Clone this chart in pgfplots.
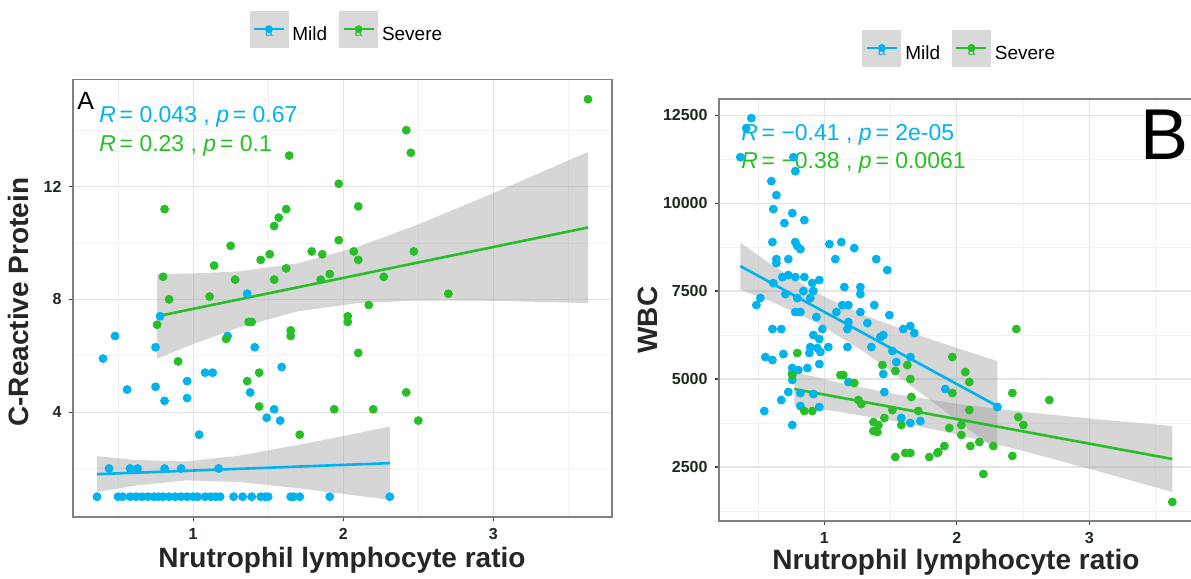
\documentclass[border=0pt]{standalone}
\usepackage{pgfplots}
\pgfplotsset{compat=1.18}
\usepackage{fontspec}
\setmainfont{Liberation Sans}

\definecolor{mild}{RGB}{0,178,238}
\definecolor{severe}{RGB}{40,190,40}
\definecolor{keygray}{RGB}{217,217,217}
\definecolor{tickcol}{RGB}{30,40,30}

\tikzset{rtext/.style={anchor=west, inner sep=0pt, font=\fontsize{11.5}{13}\selectfont}}

\pgfplotsset{
  panel/.style={
    scale only axis, clip=false,
    axis line style={black!50, line width=0.8pt},
    grid=both,
    major grid style={black!10, line width=0.6pt},
    minor grid style={black!5, line width=0.35pt},
    tick align=outside,
    major tick length=2.2pt, minor tick length=0pt,
    tick style={black!75, line width=0.6pt},
    xtick pos=left, ytick pos=left,
    scaled ticks=false,
    /pgf/number format/assume math mode=true,
    /pgf/number format/1000 sep={},
    ticklabel style={font=\bfseries\fontsize{8}{9}\selectfont, text=tickcol},
    label style={font=\bfseries\fontsize{14}{16}\selectfont, text=black!85},
    legend columns=-1,
    legend style={draw=none, fill=none, anchor=center,
      font=\fontsize{9.5}{11}\selectfont,
      /tikz/every even column/.append style={column sep=4pt}},
  },
  pts/.style={only marks, mark=*, mark size=2pt, mark options={draw=none}},
  band/.style={fill=black!40, fill opacity=0.4, draw=none, forget plot},
  fit/.style={line width=1.3pt, no marks, forget plot},
  keyimg/.style={legend image code/.code={
      \fill[keygray] (0pt,-6pt) rectangle (19pt,12pt);
      \draw[line width=1.2pt] (2pt,3pt) -- (17pt,3pt);
      \fill (9.5pt,3pt) circle (1.75pt);
      \node[font=\fontsize{7}{7}\selectfont, inner sep=0pt] at (9.5pt,0.5pt) {a};
  }},
}

\begin{document}
\begin{tikzpicture}
\path[use as bounding box] (0,0) rectangle (595.5pt,289.5pt);

% ---------------- panel A ----------------
\begin{axis}[panel,
  at={(36.5pt,31pt)}, anchor=south west,
  width=269.5pt, height=218.75pt,
  xmin=0.2, xmax=3.79, ymin=0.28, ymax=15.8,
  xtick={1,2,3}, minor xtick={0.5,1.5,2.5,3.5},
  ytick={4,8,12}, minor ytick={2,6,10,14},
  xlabel={Nrutrophil lymphocyte ratio},
  ylabel={C-Reactive Protein},
  xlabel style={at={(axis description cs:0.499,-0.098)}, anchor=center},
  ylabel style={at={(axis description cs:-0.102,0.491)}, anchor=center},
  legend style={at={(0.51,1.115)}},
]
% Mild
\addplot[pts, color=mild, keyimg] coordinates {
(0.78,7.4) (1.36,8.2) (0.48,6.7) (0.75,6.3) (1.23,6.7) (1.41,6.3) (0.40,5.9)
(1.08,5.4) (1.13,5.4) (1.59,5.6) (0.96,5.1) (0.56,4.8) (0.75,4.9) (0.81,4.4)
(0.96,4.5) (1.38,4.7) (1.54,4.1) (1.49,3.8) (1.58,3.7) (1.04,3.2)
(0.44,2) (0.58,2) (0.63,2) (0.81,2) (0.92,2) (1.17,2)
(0.36,1) (0.50,1) (0.53,1) (0.58,1) (0.62,1) (0.66,1) (0.70,1) (0.74,1)
(0.77,1) (0.80,1) (0.84,1) (0.88,1) (0.92,1) (0.96,1) (1.00,1) (1.03,1)
(1.08,1) (1.12,1) (1.15,1) (1.18,1) (1.27,1) (1.33,1) (1.39,1) (1.45,1)
(1.48,1) (1.50,1) (1.65,1) (1.67,1) (1.71,1) (1.91,1) (2.31,1)
};
\addlegendentry{Mild}
% Severe
\addplot[pts, color=severe, keyimg] coordinates {
(3.63,15.1) (2.42,14.0) (2.45,13.2) (1.64,13.1) (1.97,12.1) (0.81,11.2)
(2.10,11.3) (1.62,11.2) (1.57,10.9) (1.54,10.6) (1.25,9.9) (1.97,10.1)
(1.79,9.7) (1.86,9.6) (2.07,9.7) (1.51,9.6) (1.45,9.4) (1.14,9.2) (1.62,9.1)
(0.80,8.8) (1.28,8.7) (1.54,8.7) (1.91,8.9) (1.85,8.7) (2.10,9.4) (0.84,8.0)
(1.11,8.1) (0.76,7.1) (1.37,7.2) (1.39,7.2) (1.65,6.9) (1.65,6.7) (2.03,7.4)
(2.03,7.2) (2.27,8.8) (2.47,9.7) (2.70,8.2) (2.17,7.8) (2.10,6.1) (2.42,4.7)
(1.94,4.1) (2.20,4.1) (2.50,3.7) (1.22,6.6) (0.90,5.8) (1.44,5.4) (1.36,5.1)
(1.44,4.2) (1.71,3.2)
};
\addlegendentry{Severe}
% confidence bands
\addplot[band] coordinates {
(0.36,2.44) (0.6,2.31) (0.95,2.25) (1.3,2.45) (1.7,2.84) (2.0,3.15) (2.31,3.49)
(2.31,0.89) (2.0,1.10) (1.7,1.30) (1.3,1.52) (0.95,1.58) (0.6,1.38) (0.36,1.16)
} -- cycle;
\addplot[band] coordinates {
(0.76,8.90) (1.0,8.92) (1.3,8.99) (1.7,9.28) (2.1,9.87) (2.5,10.66) (3.0,11.77) (3.63,13.23)
(3.63,7.87) (3.0,7.95) (2.5,7.96) (2.1,7.87) (1.7,7.58) (1.3,6.99) (1.0,6.41) (0.76,5.90)
} -- cycle;
% fitted lines
\addplot[fit, color=mild] coordinates {(0.36,1.80) (2.31,2.19)};
\addplot[fit, color=severe] coordinates {(0.76,7.40) (3.63,10.55)};
\node[anchor=west, inner sep=0pt, font=\fontsize{12.5}{14}\selectfont]
  at (axis description cs:0.0074,0.951) {A};
\node[rtext, text=mild] at (axis description cs:0.048,0.914)
  {\textit{R}\,= 0.043 , \textit{p}\,= 0.67};
\node[rtext, text=severe] at (axis description cs:0.048,0.848)
  {\textit{R}\,= 0.23 , \textit{p}\,= 0.1};
\end{axis}

% ---------------- panel B ----------------
\begin{axis}[panel,
  at={(359.5pt,29pt)}, anchor=south west,
  width=237.5pt, height=211pt,
  xmin=0.205, xmax=3.79, ymin=965, ymax=12960,
  xtick={1,2,3}, minor xtick={0.5,1.5,2.5,3.5},
  ytick={2500,5000,7500,10000,12500},
  yticklabels={2500,5000,7500,10000,12500},
  minor ytick={1250,3750,6250,8750,11250},
  xlabel={Nrutrophil lymphocyte ratio},
  ylabel={WBC},
  xlabel style={at={(axis description cs:0.499,-0.097)}, anchor=center},
  ylabel style={at={(axis description cs:-0.149,0.476)}, anchor=center},
  legend style={at={(0.509,1.121)}},
]
% Mild
\addplot[pts, color=mild, keyimg] coordinates {
(0.449,12415) (0.411,12131) (0.366,11307) (0.766,11307) (0.781,10909)
(0.600,10625) (0.638,10228) (0.615,9830) (0.758,9716) (0.698,9432)
(0.849,9517) (0.608,8892) (0.781,8892) (0.796,8779) (0.819,8693)
(0.638,8409) (0.638,8296) (0.728,8409) (1.038,8835) (1.128,8892)
(1.226,8722) (1.083,8409) (1.392,8409) (1.475,8097) (0.683,7898)
(0.728,7955) (0.781,7898) (0.849,7898) (0.615,7727) (0.909,7727)
(0.962,7813) (0.842,7500) (0.917,7500) (0.706,7415) (0.796,7301)
(0.894,7301) (0.517,7301) (0.487,7102) (1.151,7614) (1.272,7614)
(1.272,7415) (1.377,7102) (1.491,6818) (1.136,7102) (1.181,7102)
(1.091,6904) (0.781,6904) (0.819,6904) (0.940,6762) (1.272,6904)
(1.181,6619) (1.325,6591) (0.608,6421) (0.675,6421) (0.985,6421)
(1.174,6421) (1.423,6193) (1.445,6250) (1.596,6421) (1.649,6506)
(1.679,6307) (0.917,6250) (0.962,6136) (1.030,5909) (0.894,5909)
(0.947,5881) (0.970,5767) (1.174,5909) (1.355,5909) (0.691,5710)
(0.555,5625) (0.608,5540) (0.887,5739) (1.513,5796) (1.649,5625)
(0.962,5426) (0.758,5313) (0.804,5256) (0.872,5313) (1.543,5483)
(1.445,5142) (0.758,4972) (1.181,4915) (0.728,4631) (0.819,4602)
(0.917,4574) (1.453,4631) (0.675,4403) (0.819,4233) (0.962,4205)
(0.547,4091) (1.581,3892) (1.649,3750) (1.725,3807) (0.758,3693)
(1.913,4716) (2.306,4205) (0.758,5171)
};
\addlegendentry{Mild}
% Severe
\addplot[pts, color=severe, keyimg] coordinates {
(0.796,5739) (0.758,5114) (1.121,5114) (1.143,5114) (1.226,4886)
(1.438,5398) (1.536,5227) (1.626,5398) (1.649,5000) (1.657,4489)
(1.257,4403) (1.279,4290) (0.849,4091) (0.909,4091) (1.513,4119)
(1.709,4091) (1.453,3892) (1.370,3778) (1.408,3693) (1.370,3523)
(1.400,3494) (1.581,3693) (1.536,2784) (1.611,2898) (1.649,2898)
(1.792,2784) (1.853,2898) (2.449,6421) (1.966,5625) (2.064,5199)
(2.094,4915) (1.966,4602) (2.419,4602) (2.698,4403) (2.094,4119)
(2.464,3920) (2.502,3693) (1.943,3608) (2.034,3693) (2.034,3409)
(2.170,3210) (2.102,3097) (2.275,3097) (1.906,3097) (1.860,2926)
(2.419,2813) (2.200,2301) (3.626,1506)
};
\addlegendentry{Severe}
% confidence bands
\addplot[band] coordinates {
(0.366,8880) (0.6,8255) (0.95,7434) (1.3,6819) (1.7,6263) (2.0,5884) (2.306,5510)
(2.306,2950) (2.0,3832) (1.7,4683) (1.3,5769) (0.95,6590) (0.6,7205) (0.366,7540)
} -- cycle;
\addplot[band] coordinates {
(0.774,5199) (1.1,4906) (1.5,4595) (2.0,4295) (2.5,4068) (3.0,3879) (3.626,3664)
(3.626,1790) (3.0,2449) (2.5,2956) (2.0,3427) (1.5,3825) (1.1,4072) (0.774,4233)
} -- cycle;
% fitted lines
\addplot[fit, color=mild] coordinates {(0.366,8210) (2.306,4230)};
\addplot[fit, color=severe] coordinates {(0.774,4716) (3.626,2727)};
\node[rtext, text=mild] at (axis description cs:0.046,0.915)
  {\textit{R}\,= \textminus0.41 , \textit{p}\,= 2e-05};
\node[rtext, text=severe] at (axis description cs:0.046,0.848)
  {\textit{R}\,= \textminus0.38 , \textit{p}\,= 0.0061};
\node[anchor=west, inner sep=0pt, font=\fontsize{36}{38}\selectfont]
  at (axis description cs:0.887,0.916) {B};
\end{axis}
\end{tikzpicture}
\end{document}
